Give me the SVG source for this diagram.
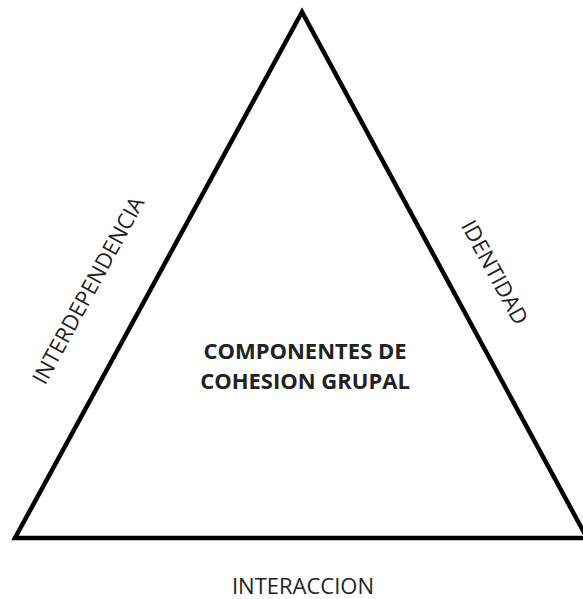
<svg xmlns="http://www.w3.org/2000/svg" width="583" height="599" viewBox="0 0 583 599">
<style>
.lbl{font-family:"Open Sans","Liberation Sans",sans-serif;font-size:22px;fill:#222;text-anchor:middle;}
.ctr{font-family:"Open Sans","Liberation Sans",sans-serif;font-size:22px;font-weight:bold;fill:#222;text-anchor:middle;}
</style>
<rect width="583" height="599" fill="#fff"/>
<g id="triangle">
<polygon points="302,12 15,538 587,538" fill="none" stroke="#000" stroke-width="4.5" stroke-linejoin="miter"/>
<text class="ctr" x="305" y="359">COMPONENTES DE</text>
<text class="ctr" x="305" y="389">COHESION GRUPAL</text>
</g>
<g id="interdependencia">
<text class="lbl" transform="translate(95,294) rotate(-61.5)">INTERDEPENDENCIA</text>
</g>
<g id="identidad">
<text class="lbl" transform="translate(488,276) rotate(61.5)">IDENTIDAD</text>
</g>
<g id="interaccion">
<text class="lbl" x="303" y="594">INTERACCION</text>
</g>
<g id="connectors"></g>
</svg>
